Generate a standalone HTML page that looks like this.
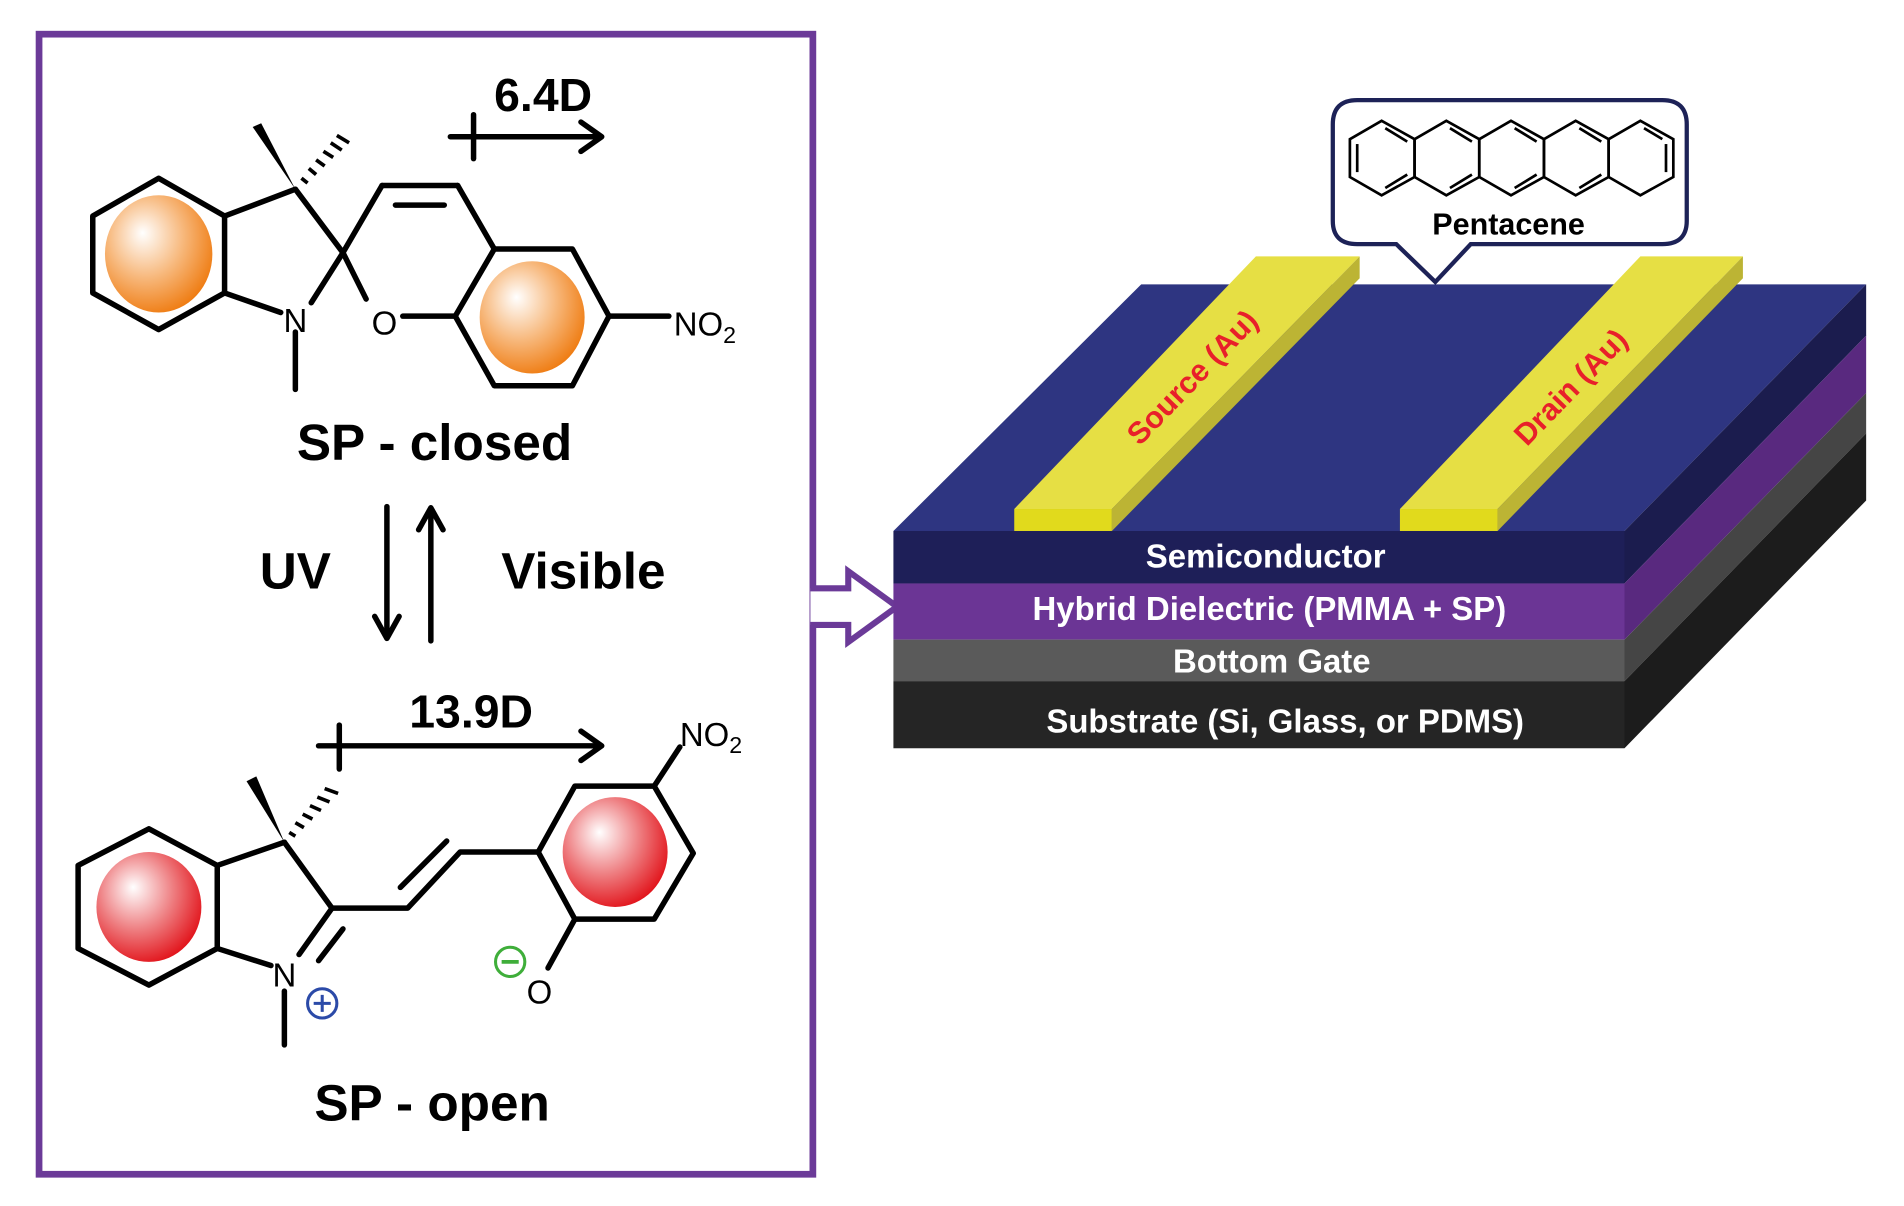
<!DOCTYPE html>
<html><head><meta charset="utf-8"><style>html,body{margin:0;padding:0;background:#fff}svg{display:block}</style></head>
<body>
<svg width="1904" height="1206" viewBox="0 0 1560 988" preserveAspectRatio="none" xmlns="http://www.w3.org/2000/svg" font-family="Liberation Sans, sans-serif">
<defs>
<radialGradient id="og" cx="0.4" cy="0.38" r="0.65" fx="0.35" fy="0.32"><stop offset="0" stop-color="#fff"/><stop offset="0.55" stop-color="#f7b77a"/><stop offset="1" stop-color="#ef7d14"/></radialGradient>
<radialGradient id="rg" cx="0.4" cy="0.38" r="0.65" fx="0.35" fy="0.32"><stop offset="0" stop-color="#fff"/><stop offset="0.55" stop-color="#ee7d80"/><stop offset="1" stop-color="#e2161d"/></radialGradient>
</defs>
<!-- purple box -->
<rect x="32" y="28" width="634" height="934" fill="none" stroke="#6b3a98" stroke-width="5.5"/>
<path d="M664,482 L695,482 L695,468 L735,497 L695,526 L695,512 L664,512" fill="#fff" stroke="#6b3a98" stroke-width="5" stroke-linejoin="miter"/>

<g stroke="#000" stroke-width="4.5" fill="none" stroke-linejoin="round" stroke-linecap="round">
<!-- top molecule -->
<polygon points="130,146 184,177 184,240 130,270 76,240 76,177"/>
<line x1="184" y1="177" x2="242" y2="155"/>
<line x1="184" y1="240" x2="230" y2="256"/>
<line x1="242" y1="155" x2="281" y2="207"/>
<line x1="281" y1="207" x2="255" y2="248"/>
<line x1="242" y1="272" x2="242" y2="319"/>
<line x1="281" y1="207" x2="313" y2="152"/>
<line x1="313" y1="152" x2="375" y2="152"/>
<line x1="324" y1="168" x2="364" y2="168"/>
<line x1="375" y1="152" x2="405" y2="204"/>
<line x1="281" y1="207" x2="300" y2="245"/>
<line x1="330" y1="259" x2="373" y2="259"/>
<polygon points="405,204 469,204 499,259 469,316 405,316 373,259"/>
<line x1="499" y1="259" x2="548" y2="259"/>
<!-- dipole top -->
<line x1="369" y1="112" x2="492" y2="112"/>
<polyline points="476,100 493,112 476,124"/>
<line x1="388" y1="94" x2="388" y2="130"/>
<!-- UV arrows -->
<line x1="317" y1="415" x2="317" y2="522"/>
<polyline points="307,505 317,523 327,505"/>
<line x1="353" y1="525" x2="353" y2="418"/>
<polyline points="343,434 353,416 363,434"/>
<!-- bottom molecule -->
<polygon points="122,679 178,709 178,777 122,807 64,777 64,709"/>
<line x1="178" y1="709" x2="233" y2="690"/>
<line x1="233" y1="690" x2="272" y2="744"/>
<line x1="178" y1="777" x2="222" y2="791"/>
<line x1="272" y1="744" x2="245" y2="782"/>
<line x1="281" y1="761" x2="261" y2="787"/>
<line x1="233" y1="812" x2="233" y2="856"/>
<polyline points="272,744 334,744 377,698 441,698"/>
<line x1="328" y1="727" x2="366" y2="689"/>
<polygon points="441,698 471,644 536,644 568,699 536,753 471,753"/>
<line x1="536" y1="644" x2="557" y2="612"/>
<line x1="471" y1="753" x2="449" y2="793"/>
<!-- dipole bottom -->
<line x1="261" y1="611" x2="492" y2="611"/>
<polyline points="476,599 493,611 476,623"/>
<line x1="278" y1="594" x2="278" y2="630"/>
</g>
<!-- wedges -->
<polygon points="242,155 207,104 214,101" fill="#000"/>
<g stroke="#000" stroke-width="3">
<line x1="247" y1="146" x2="252" y2="150"/><line x1="253" y1="138" x2="259" y2="143"/><line x1="259" y1="131" x2="266" y2="136"/><line x1="265" y1="124" x2="273" y2="129"/><line x1="271" y1="117" x2="280" y2="123"/><line x1="276" y1="111" x2="286" y2="117"/>
<line x1="237" y1="682" x2="242" y2="685"/><line x1="242" y1="674" x2="249" y2="678"/><line x1="248" y1="667" x2="256" y2="671"/><line x1="254" y1="660" x2="263" y2="664"/><line x1="260" y1="653" x2="270" y2="657"/><line x1="266" y1="646" x2="277" y2="650"/>
</g>
<polygon points="233,690 202,640 210,636" fill="#000"/>
<!-- aromatic circles -->
<ellipse cx="130" cy="208" rx="44" ry="48" fill="url(#og)"/>
<ellipse cx="436" cy="260" rx="43" ry="46" fill="url(#og)"/>
<ellipse cx="122" cy="743" rx="43" ry="45" fill="url(#rg)"/>
<ellipse cx="504" cy="698" rx="43" ry="45" fill="url(#rg)"/>
<!-- labels -->
<g fill="#000">
<text x="242" y="272" font-size="27" text-anchor="middle">N</text>
<text x="315" y="274" font-size="27" text-anchor="middle">O</text>
<text x="552" y="275" font-size="27">NO<tspan font-size="19" dy="6">2</tspan></text>
<text x="445" y="91" font-size="38" font-weight="bold" text-anchor="middle">6.4D</text>
<text x="356" y="377" font-size="42" font-weight="bold" text-anchor="middle">SP - closed</text>
<text x="242" y="482" font-size="42" font-weight="bold" text-anchor="middle">UV</text>
<text x="478" y="482" font-size="42" font-weight="bold" text-anchor="middle">Visible</text>
<text x="386" y="596" font-size="38" font-weight="bold" text-anchor="middle">13.9D</text>
<text x="557" y="611" font-size="27">NO<tspan font-size="19" dy="6">2</tspan></text>
<text x="233" y="808" font-size="27" text-anchor="middle">N</text>
<text x="442" y="822" font-size="27" text-anchor="middle">O</text>
<text x="354" y="918" font-size="42" font-weight="bold" text-anchor="middle">SP - open</text>
</g>
<circle cx="264" cy="822" r="12" fill="none" stroke="#2b4aa8" stroke-width="2.5"/>
<path d="M264,815v14M257,822h14" stroke="#2b4aa8" stroke-width="2.5"/>
<circle cx="418" cy="788" r="12" fill="none" stroke="#3fae3a" stroke-width="2.5"/>
<path d="M411,788h14" stroke="#3fae3a" stroke-width="3"/>

<!-- device -->
<polygon points="732,435 935,233 1529,233 1331,435" fill="#2e3581"/>
<polygon points="1331,435 1529,233 1529,275 1331,478" fill="#1b1c4e"/>
<polygon points="1331,478 1529,275 1529,322 1331,524" fill="#59297f"/>
<polygon points="1331,524 1529,322 1529,355 1331,558" fill="#454545"/>
<polygon points="1331,558 1529,355 1529,410 1331,613" fill="#1c1c1c"/>
<rect x="732" y="435" width="599" height="43" fill="#1e1f58"/>
<rect x="732" y="478" width="599" height="46" fill="#6b3595"/>
<rect x="732" y="524" width="599" height="34" fill="#5a5a5a"/>
<rect x="732" y="558" width="599" height="55" fill="#252525"/>
<!-- source bar -->
<polygon points="831,417 911,417 1114,210 1029,210" fill="#e6df44"/>
<polygon points="911,417 1114,210 1114,228 911,435" fill="#bcb434"/>
<rect x="831" y="417" width="80" height="18" fill="#e1da1c"/>
<!-- drain bar -->
<polygon points="1147,417 1227,417 1428,210 1344,210" fill="#e6df44"/>
<polygon points="1227,417 1428,210 1428,228 1227,435" fill="#bcb434"/>
<rect x="1147" y="417" width="80" height="18" fill="#e1da1c"/>
<text transform="translate(983,315) rotate(-46)" font-size="25" font-weight="bold" fill="#e8202a" text-anchor="middle">Source (Au)</text>
<text transform="translate(1293,323) rotate(-46)" font-size="25" font-weight="bold" fill="#e8202a" text-anchor="middle">Drain (Au)</text>
<g fill="#fff" font-weight="bold" font-size="27" text-anchor="middle">
<text x="1037" y="465">Semiconductor</text>
<text x="1040" y="508">Hybrid Dielectric (PMMA + SP)</text>
<text x="1042" y="551">Bottom Gate</text>
<text x="1053" y="600">Substrate (Si, Glass, or PDMS)</text>
</g>
<!-- callout -->
<path d="M1112,82 H1362 Q1382,82 1382,102 V181 Q1382,200 1362,200 H1205 L1176,231 L1144,200 H1112 Q1092,200 1092,181 V102 Q1092,82 1112,82 Z" fill="#fff" stroke="#1d2257" stroke-width="3.5"/>
<g stroke="#000" stroke-width="2.2" fill="none">
<polygon points="1106,114 1132,99 1159,114 1159,145 1132,160 1106,145"/>
<polygon points="1159,114 1185,99 1212,114 1212,145 1185,160 1159,145"/>
<polygon points="1212,114 1238,99 1265,114 1265,145 1238,160 1212,145"/>
<polygon points="1265,114 1291,99 1318,114 1318,145 1291,160 1265,145"/>
<polygon points="1318,114 1344,99 1371,114 1371,145 1344,160 1318,145"/>
<line x1="1112" y1="118" x2="1112" y2="141"/><line x1="1135" y1="105" x2="1153" y2="116"/><line x1="1135" y1="154" x2="1153" y2="143"/>
<line x1="1188" y1="105" x2="1206" y2="116"/><line x1="1188" y1="154" x2="1206" y2="143"/>
<line x1="1241" y1="105" x2="1259" y2="116"/><line x1="1241" y1="154" x2="1259" y2="143"/>
<line x1="1294" y1="105" x2="1312" y2="116"/><line x1="1294" y1="154" x2="1312" y2="143"/>
<line x1="1365" y1="118" x2="1365" y2="141"/><line x1="1347" y1="105" x2="1362" y2="114"/>
</g>
<text x="1236" y="192" font-size="25" font-weight="bold" text-anchor="middle" fill="#000">Pentacene</text>
</svg>
</body></html>
